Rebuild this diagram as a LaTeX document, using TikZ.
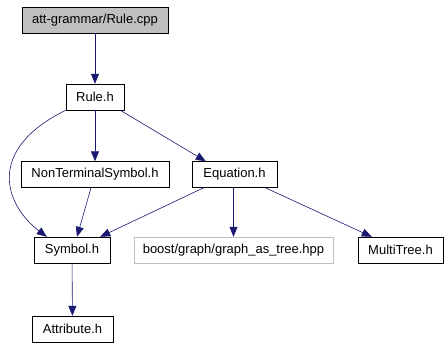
\documentclass[tikz,border=0pt]{standalone}
\usepackage{fontspec}
\setmainfont{Liberation Sans}
\usetikzlibrary{arrows.meta, positioning}
\definecolor{edgeblue}{HTML}{191970}
\definecolor{rootgray}{HTML}{BFBFBF}
\definecolor{extgray}{HTML}{BFBFBF}

\begin{document}
\begin{tikzpicture}[x=1pt, y=-1pt,
    every node/.style={font=\fontsize{13}{15}\selectfont, inner sep=0pt, minimum height=26pt},
    hfile/.style={draw=black, fill=white},
    rootfile/.style={draw=black, fill=rootgray},
    extfile/.style={draw=extgray, fill=white},
    incl/.style={-{Triangle[length=10pt, width=8pt]}, edgeblue, line width=0.6pt}]
  \useasboundingbox (0,0) rectangle (448,349);

  % files, top to bottom
  \node[rootfile, minimum width=146pt] (rcpp) at (95,20) {att-grammar/Rule.cpp};
  \node[hfile, minimum width=58pt] (rh) at (95,97) {Rule.h};
  \node[hfile, minimum width=148pt] (nts) at (95,174.5) {NonTerminalSymbol.h};
  \node[hfile, minimum width=85pt] (eq) at (234.5,174.5) {Equation.h};
  \node[hfile, minimum width=76pt] (sym) at (72,250) {Symbol.h};
  \node[extfile, minimum width=199pt] (bgt) at (233.5,250) {boost/graph/graph\_as\_tree.hpp};
  \node[hfile, minimum width=85pt] (mt) at (400.5,250) {MultiTree.h};
  \node[hfile, minimum width=81pt] (attr) at (72.5,329) {Attribute.h};

  % include edges
  \draw[incl] (rcpp) -- (rh);
  \draw[incl] (rh) -- (nts);
  \draw[incl] (rh.south west) .. controls (-15,150) and (5,205) .. ([xshift=13pt]sym.north west);
  \draw[incl] ([xshift=-4pt]rh.south east) -- ([xshift=14pt]eq.north west);
  \draw[incl] ([xshift=-4pt]nts.south) -- ([xshift=5pt]sym.north);
  \draw[incl] ([xshift=12pt]eq.south west) -- ([xshift=-10pt]sym.north east);
  \draw[incl] ([xshift=-1pt]eq.south) -- ([xshift=-1pt]eq.south |- bgt.north);
  \draw[incl] ([xshift=-12pt]eq.south east) -- ([xshift=14pt]mt.north west);
  \draw[incl] (sym) -- (attr);
\end{tikzpicture}
\end{document}
